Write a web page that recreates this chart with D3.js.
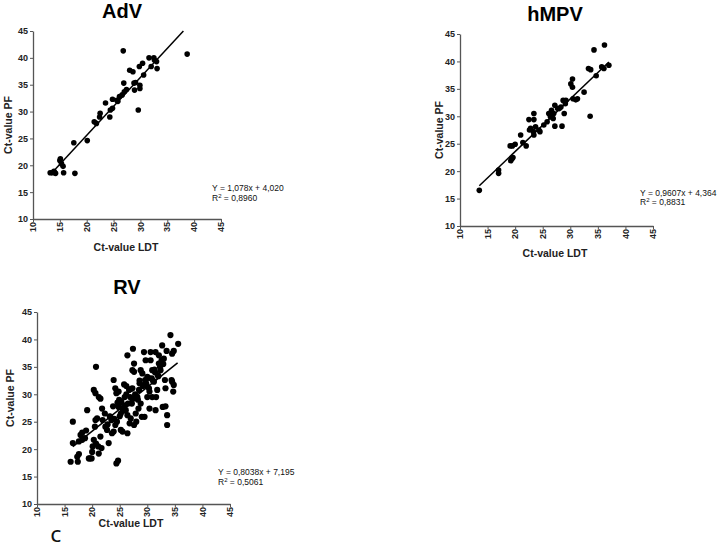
<!DOCTYPE html>
<html><head><meta charset="utf-8">
<script src="https://cdn.jsdelivr.net/npm/d3@7"></script>
<style>body{margin:0;background:#fff}svg{display:block}</style>
</head><body><svg id="c" width="717" height="546"></svg>
<script>
const tickValues = [10, 15, 20, 25, 30, 35, 40, 45];
const panelTitles = ["AdV", "hMPV", "RV"];
const xLabel = "Ct-value LDT";
const yLabel = "Ct-value PF";
const equations = ["Y = 1,078x + 4,020", "Y = 0,9607x + 4,364", "Y = 0,8038x + 7,195"];
const r2Values = ["0,8960", "0,8831", "0,5061"];
const slopes = [1.078, 0.9607, 0.8038];
const intercepts = [4.020, 4.364, 7.195];
const lineFrom = [13.5, 13.5, 16.5];
const lineTo = [38.0, 37.0, 35.5];

const advLDT = [13.2,13.6,14.0,14.2,13.9,15.1,15.0,15.3,15.6,15.7,17.6,17.8,20.1,21.4,21.8,22.4,22.5,23.5,24.3,24.4,24.8,24.8,25.6,25.8,26.1,26.6,26.8,26.9,27.0,27.4,28.0,28.6,28.8,28.9,29.1,29.6,29.8,29.9,29.9,30.4,30.6,31.6,32.0,32.5,32.6,33.0,33.1,38.7];
const advPF  = [18.6,18.6,18.7,18.5,18.9,21.2,20.9,20.3,19.8,18.6,24.2,18.5,24.6,28.1,27.8,29.0,29.7,31.6,29.0,30.3,30.6,32.3,32.1,31.9,32.8,33.1,41.3,35.3,33.7,34.1,37.7,37.4,35.3,34.0,35.4,30.3,38.4,34.9,34.3,39.0,36.8,40.0,38.4,40.0,39.6,39.3,38.0,40.7];

const hmpvLDT = [13.5,17.0,17.0,19.1,19.5,20.0,19.4,19.6,19.2,21.0,21.4,22.0,22.5,22.6,22.8,23.4,23.4,23.3,23.4,23.7,24.3,24.5,25.2,25.8,26.1,26.4,26.6,26.7,27.0,26.9,27.2,27.2,27.7,28.0,28.3,28.5,28.7,28.9,29.1,29.2,30.1,30.4,30.4,30.5,31.0,31.3,32.5,33.3,33.7,33.6,34.3,34.7,35.7,36.2,36.1,37.0];
const hmpvPF  = [16.5,20.2,19.6,24.6,24.6,24.9,22.2,22.5,21.9,26.6,25.2,24.6,29.4,27.5,27.8,30.5,29.4,27.2,26.6,28.1,27.5,27.2,28.4,29.0,30.5,29.9,31.1,30.2,30.5,29.6,32.0,28.2,31.4,31.4,31.7,28.2,32.9,30.5,32.3,32.9,35.9,36.8,35.3,33.2,33.0,33.2,34.4,38.7,38.5,30.0,42.1,37.4,39.0,43.0,38.7,39.3];

const rvLDT = [16.1,16.5,16.5,17.3,17.6,17.4,17.9,18.2,18.2,18.7,17.6,18.9,19.1,19.4,19.6,19.9,20.0,20.1,20.3,20.3,20.6,20.7,20.5,20.6,20.9,20.7,21.1,21.2,21.2,21.5,21.5,21.7,21.8,21.9,22.3,22.4,22.7,23.0,23.3,23.5,23.6,23.9,23.8,23.9,24.2,24.4,24.2,24.5,24.4,24.7,24.8,24.9,24.8,25.2,25.3,25.2,25.5,25.8,25.9,26.1,26.4,26.4,26.2,26.5,26.7,27.0,26.8,27.3,27.4,27.2,27.6,27.3,27.6,27.4,26.4,27.6,28.0,27.9,28.2,28.4,28.5,28.6,28.8,29.0,28.8,29.1,29.4,29.6,29.7,29.4,29.5,30.0,30.3,30.4,30.6,30.8,30.9,31.2,30.4,31.5,31.6,31.8,32.0,32.1,31.5,32.4,32.6,32.7,33.0,32.8,33.3,33.2,33.3,33.5,33.6,33.6,34.2,34.4,34.5,34.7,34.8,34.5,34.8,35.6,30.9,30.0,32.1,30.6,25.0,25.6,26.0,26.9,27.8,28.3,29.2,29.8,30.2,31.0,31.4,31.9,32.3,24.6,25.4,26.2,27.1,28.6,29.9,31.3,32.9,22.8,23.2,24.0];
const rvPF  = [17.7,25.0,21.1,18.6,19.1,17.7,22.6,23.0,21.7,22.0,21.4,23.4,27.1,18.3,18.3,18.3,19.5,20.5,21.7,30.8,30.2,35.0,24.1,25.3,25.6,21.0,20.5,19.2,29.5,29.2,22.3,20.2,27.4,25.3,26.5,24.1,23.5,21.1,25.9,25.3,22.9,23.2,27.8,32.6,31.1,30.2,24.4,25.0,17.4,17.9,30.5,29.0,27.7,26.5,28.6,23.5,23.2,31.8,29.5,27.1,26.2,22.9,31.5,28.3,30.8,25.6,24.7,31.1,29.2,28.3,34.1,34.4,35.6,38.3,37.1,24.4,25.0,26.5,29.5,27.4,30.8,32.0,28.3,25.9,34.4,33.8,31.7,32.6,36.2,37.7,25.9,33.2,31.1,30.5,37.7,32.9,34.4,32.3,27.4,37.7,29.5,30.8,33.3,35.6,27.1,34.4,36.2,38.9,36.5,27.7,27.8,32.6,31.1,37.9,26.2,24.4,40.8,32.6,32.3,30.5,31.7,37.4,37.9,39.2,29.5,29.5,37.1,36.2,26.0,27.0,28.0,29.5,30.0,29.0,31.5,32.0,33.0,32.5,34.0,33.5,35.0,28.5,27.5,30.0,31.0,32.5,31.5,34.5,35.5,24.5,26.0,25.5];

// panel geometry: plot-area box [x0, x1, yTop, yBottom]
const boxes = [[33, 221, 31, 219], [460, 653, 34, 226], [37, 230, 312, 504]];
const dotR = [2.8, 2.8, 3.1];
const titlePos = [[122, 18], [555, 21], [127, 294]];
const yLabPos = [[8, 125], [439, 130], [10, 398]];
const xLabPos = [[126, 251], [555, 257], [131, 527]];
const eqPos = [[212, 191, 201], [640, 196, 205], [218, 475, 485]];

const FONT = "Liberation Sans, Arial, sans-serif";
const svg = d3.select("#c");
const data = [[advLDT, advPF], [hmpvLDT, hmpvPF], [rvLDT, rvPF]];

data.forEach(([xs, ys], i) => {
  const [x0, x1, yt, yb] = boxes[i];
  const x = d3.scaleLinear().domain([10, 45]).range([x0, x1]);
  const y = d3.scaleLinear().domain([10, 45]).range([yb, yt]);
  const g = svg.append("g");

  const ya = g.append("g").attr("transform", `translate(${x0},0)`)
    .call(d3.axisLeft(y).tickValues(tickValues).tickSize(3).tickPadding(2).tickSizeOuter(0));
  ya.selectAll("text").attr("font-family", FONT)
    .attr("font-size", 9).attr("font-weight", "bold").attr("fill", "#222");

  const xa = g.append("g").attr("transform", `translate(0,${yb})`)
    .call(d3.axisBottom(x).tickValues(tickValues).tickSize(3).tickSizeOuter(0).tickFormat(""));
  [ya, xa].forEach(a => {
    a.select(".domain").attr("stroke", "#555").attr("stroke-width", 1.3);
    a.selectAll(".tick line").attr("stroke", "#555");
  });
  // rotated x tick labels, reading bottom-to-top
  g.append("g").selectAll("text").data(tickValues).join("text")
    .attr("transform", d => `translate(${x(d)},${yb + 3}) rotate(-90)`)
    .attr("text-anchor", "end").attr("dy", "0.35em")
    .attr("font-family", FONT).attr("font-size", 9).attr("font-weight", "bold")
    .attr("fill", "#222").text(d => d);

  g.append("g").selectAll("circle").data(xs.map((v, k) => [v, ys[k]])).join("circle")
    .attr("cx", d => x(d[0])).attr("cy", d => y(d[1])).attr("r", dotR[i]).attr("fill", "#000");

  g.append("line")
    .attr("x1", x(lineFrom[i])).attr("y1", y(slopes[i] * lineFrom[i] + intercepts[i]))
    .attr("x2", x(lineTo[i])).attr("y2", y(slopes[i] * lineTo[i] + intercepts[i]))
    .attr("stroke", "#000").attr("stroke-width", 1.5);

  g.append("text").attr("x", titlePos[i][0]).attr("y", titlePos[i][1])
    .attr("text-anchor", "middle").attr("font-family", FONT)
    .attr("font-size", 20).attr("font-weight", "bold").text(panelTitles[i]);

  g.append("text").attr("transform", `translate(${yLabPos[i][0]},${yLabPos[i][1]}) rotate(-90)`)
    .attr("text-anchor", "middle").attr("dy", "0.35em")
    .attr("font-family", FONT)
    .attr("font-size", 10.5).attr("font-weight", "bold").attr("fill", "#222").text(yLabel);

  g.append("text").attr("x", xLabPos[i][0]).attr("y", xLabPos[i][1])
    .attr("text-anchor", "middle").attr("font-family", FONT)
    .attr("font-size", 10.5).attr("font-weight", "bold").attr("fill", "#222").text(xLabel);

  g.append("text").attr("x", eqPos[i][0]).attr("y", eqPos[i][1])
    .attr("font-family", FONT).attr("font-size", 8.5)
    .attr("fill", "#111").text(equations[i]);
  const r2 = g.append("text").attr("x", eqPos[i][0]).attr("y", eqPos[i][2])
    .attr("font-family", FONT).attr("font-size", 8.5).attr("fill", "#111");
  r2.append("tspan").text("R");
  r2.append("tspan").attr("dy", -3).attr("font-size", 6).text("2");
  r2.append("tspan").attr("dy", 3).text(" = " + r2Values[i]);
});

svg.append("text").attr("x", 56).attr("y", 542).attr("text-anchor", "middle")
  .attr("font-family", "Open Sans, Liberation Sans, sans-serif").attr("font-size", 17)
  .attr("font-weight", 600).attr("fill", "#111").text("C");
</script></body></html>
